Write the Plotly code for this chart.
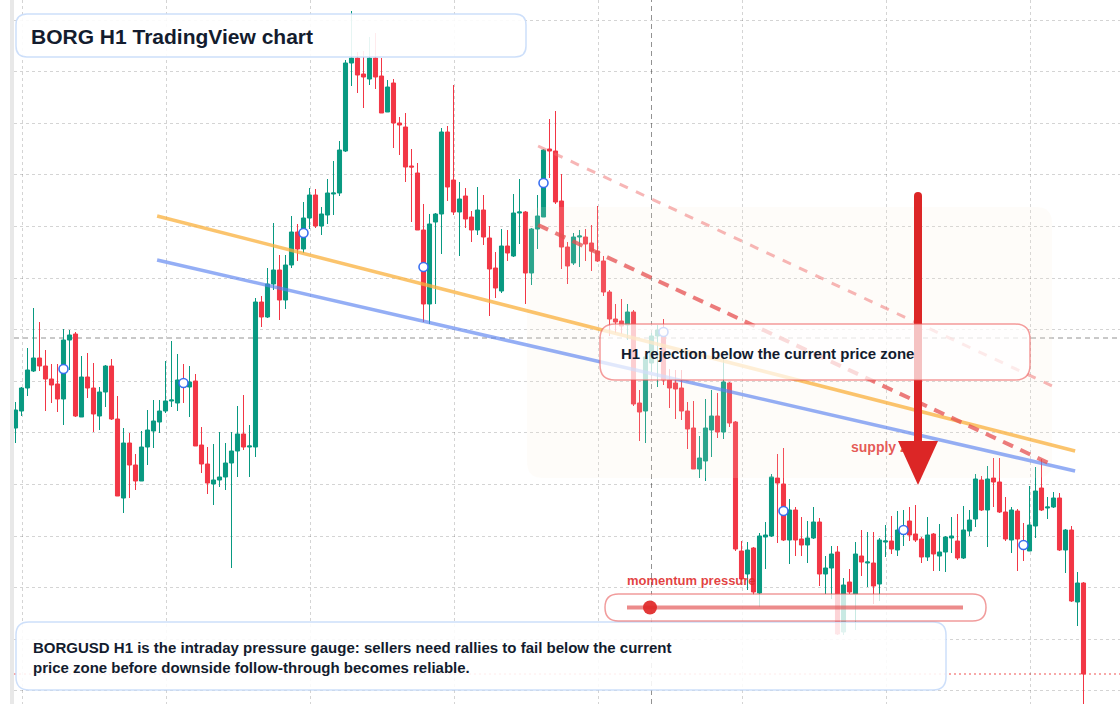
import plotly.graph_objects as go

# ---------------- data (BORG H1 candles) ----------------
open_ = [
    .572, .589, .612, .629, .642, .634, .621, .616, .601, .660,
    .666, .583, .623, .612, .584, .608, .634, .581, .502, .557,
    .535, .519, .553, .569, .578, .589, .599, .597, .619, .613,
    .619, .555, .536, .516, .520, .523, .537, .549, .566, .553,
    .553, .698, .683, .716, .730, .700, .735, .768, .751, .782,
    .805, .774, .785, .806, .807, .849, .937, .942, .926, .921,
    .942, .924, .888, .917, .877, .873, .834, .827, .770, .696,
    .778, .786, .868, .820, .788, .804, .783, .770, .790, .762,
    .732, .709, .754, .744, .787, .788, .727, .771, .783, .851,
    .849, .799, .753, .737, .763, .763, .757, .749, .739, .708,
    .681, .679, .675, .688, .597, .589, .637, .664, .667, .620,
    .617, .612, .589, .572, .531, .539, .570, .584, .568, .617,
    .578, .449, .426, .452, .407, .463, .464, .522, .516, .460,
    .490, .461, .455, .462, .478, .426, .432, .448, .368, .418,
    .406, .444, .437, .437, .416, .458, .459, .450, .466, .479,
    .466, .461, .443, .466, .444, .448, .462, .459, .442, .469,
    .481, .520, .490, .522, .518, .488, .460, .489, .459, .449,
    .474, .512, .492, .493, .502, .450, .470, .398, .417,
]
high = [
    .598, .613, .652, .692, .678, .650, .636, .636, .671, .670,
    .668, .644, .647, .637, .613, .635, .641, .604, .572, .567,
    .546, .569, .590, .600, .600, .639, .659, .646, .636, .634,
    .626, .573, .553, .556, .568, .557, .568, .594, .605, .575,
    .702, .704, .732, .777, .745, .745, .784, .776, .798, .812,
    .811, .793, .821, .839, .859, .940, .989, .948, .949, .963,
    .967, .942, .920, .921, .883, .887, .851, .837, .796, .786,
    .787, .872, .874, .915, .818, .812, .789, .813, .805, .774,
    .748, .771, .770, .806, .821, .789, .772, .805, .851, .881,
    .889, .826, .758, .767, .770, .771, .775, .794, .744, .710,
    .696, .701, .696, .690, .610, .646, .667, .675, .681, .631,
    .630, .630, .598, .599, .564, .601, .610, .607, .642, .618,
    .579, .459, .458, .453, .467, .478, .526, .546, .552, .501,
    .493, .483, .479, .493, .482, .444, .454, .454, .422, .431,
    .458, .470, .468, .468, .462, .475, .484, .489, .490, .493,
    .495, .463, .483, .467, .476, .464, .483, .486, .494, .490,
    .526, .524, .534, .542, .542, .503, .493, .491, .477, .514,
    .533, .541, .503, .508, .507, .471, .474, .428, .418,
]
low = [
    .557, .584, .604, .628, .629, .589, .597, .588, .575, .630,
    .583, .583, .602, .568, .570, .593, .580, .504, .487, .502,
    .510, .519, .535, .552, .567, .587, .593, .589, .597, .583,
    .554, .527, .506, .495, .513, .510, .432, .523, .550, .523,
    .543, .673, .682, .710, .680, .691, .732, .739, .747, .771,
    .772, .765, .776, .785, .804, .848, .914, .907, .892, .915,
    .911, .887, .888, .852, .845, .818, .778, .770, .678, .676,
    .696, .746, .799, .785, .744, .772, .758, .765, .755, .684,
    .702, .707, .739, .743, .756, .696, .715, .751, .783, .822,
    .796, .731, .716, .735, .733, .739, .729, .738, .704, .664,
    .667, .666, .660, .594, .559, .557, .628, .613, .615, .592,
    .581, .580, .551, .531, .522, .519, .543, .562, .561, .573,
    .449, .420, .410, .405, .393, .431, .463, .457, .459, .436,
    .444, .444, .437, .461, .414, .406, .401, .365, .365, .406,
    .370, .424, .413, .396, .399, .443, .446, .444, .454, .459,
    .458, .437, .439, .429, .429, .428, .447, .440, .441, .464,
    .473, .489, .453, .493, .487, .459, .447, .429, .439, .449,
    .462, .489, .481, .492, .449, .427, .398, .374, .296,
]
close = [
    .590, .612, .630, .642, .634, .621, .615, .601, .660, .665,
    .584, .623, .612, .586, .608, .634, .581, .504, .557, .535,
    .519, .553, .570, .579, .589, .599, .600, .620, .614, .618,
    .554, .536, .517, .520, .523, .537, .549, .566, .553, .554,
    .698, .683, .716, .730, .700, .735, .768, .751, .782, .805,
    .774, .786, .807, .807, .850, .937, .942, .925, .923, .942,
    .923, .887, .913, .877, .875, .833, .833, .770, .696, .776,
    .786, .868, .813, .788, .801, .781, .770, .790, .763, .731,
    .712, .754, .747, .787, .788, .727, .771, .784, .850, .849,
    .798, .753, .734, .763, .764, .756, .749, .739, .708, .681,
    .678, .674, .688, .596, .588, .643, .664, .670, .620, .612,
    .611, .589, .571, .531, .542, .572, .584, .568, .618, .577,
    .451, .421, .450, .408, .464, .465, .523, .517, .460, .490,
    .460, .455, .462, .478, .426, .432, .446, .366, .415, .408,
    .446, .438, .438, .414, .460, .459, .451, .470, .470, .465,
    .460, .443, .465, .446, .448, .463, .464, .442, .470, .480,
    .521, .490, .521, .518, .488, .461, .490, .461, .451, .475,
    .509, .490, .493, .502, .450, .470, .399, .417, .326,
]
bar_index = list(range(len(open_)))

# blue session markers
marker_index = [8, 28, 48, 68, 88, 108, 128, 148, 168]
marker_price = [0.631, 0.617, 0.767, 0.733, 0.817, 0.668, 0.489, 0.470, 0.455]

# drawn trend lines (bar index, price)
orange_line = [(23.6, 0.784), (176.6, 0.549)]
blue_line = [(23.6, 0.740), (176.6, 0.529)]
red_dash_line = [(87.1, 0.775), (172.9, 0.535)]
red_light_line = [(87.1, 0.854), (172.8, 0.614)]
crosshair_index = 106
crosshair_price = 0.662

title_text = "BORG H1 TradingView chart"
callout_text = "H1 rejection below the current price zone"
zone_label = "supply zone"
gauge_label = "momentum pressure"
note_text = ("BORGUSD H1 is the intraday pressure gauge: sellers need rallies to fail below the current"
             "<br>price zone before downside follow-through becomes reliable.")

# ---------------- layout helpers ----------------
W, H = 1120, 704
ML = 14
X_RANGE = [-0.25, 184.083]
Y_RANGE = [0.296, 1.0]
FONT = "Liberation Sans, Arial, sans-serif"
GREEN = "#089981"
RED = "#f23645"


def pxp(x):
    return (x - ML) / (W - ML)


def pyp(y):
    return 1 - y / H


def rounded(x0, y0, x1, y1, r):
    pts = [
        ("M", [(x0 + r, y0)]), ("L", [(x1 - r, y0)]), ("Q", [(x1, y0), (x1, y0 + r)]),
        ("L", [(x1, y1 - r)]), ("Q", [(x1, y1), (x1 - r, y1)]), ("L", [(x0 + r, y1)]),
        ("Q", [(x0, y1), (x0, y1 - r)]), ("L", [(x0, y0 + r)]), ("Q", [(x0, y0), (x0 + r, y0)]),
    ]
    s = ""
    for cmd, ps in pts:
        s += cmd + " ".join(f"{pxp(a):.5f},{pyp(b):.5f}" for a, b in ps) + " "
    return s + "Z"


def px_to_index(x):
    return X_RANGE[0] + (x - ML) / (W - ML) * (X_RANGE[1] - X_RANGE[0])


def py_to_price(y):
    return Y_RANGE[1] - y / H * (Y_RANGE[1] - Y_RANGE[0])


fig = go.Figure()

# labels that sit underneath the candles
fig.add_trace(go.Scatter(
    x=[px_to_index(627)], y=[py_to_price(582)], mode="text", text=[gauge_label],
    textposition="middle right", hoverinfo="skip", showlegend=False,
    textfont=dict(family=FONT, size=13, color="rgba(222,40,40,0.88)", weight="bold")))
fig.add_trace(go.Scatter(
    x=[px_to_index(851)], y=[py_to_price(448)], mode="text", text=[zone_label],
    textposition="middle right", hoverinfo="skip", showlegend=False,
    textfont=dict(family=FONT, size=14, color="rgba(222,40,40,0.9)", weight="bold")))

fig.add_trace(go.Candlestick(
    x=bar_index, open=open_, high=high, low=low, close=close,
    increasing=dict(line=dict(color=GREEN, width=1), fillcolor=GREEN),
    decreasing=dict(line=dict(color=RED, width=1), fillcolor=RED),
    whiskerwidth=0, showlegend=False, hoverinfo="skip"))

fig.add_trace(go.Scatter(
    x=marker_index, y=marker_price, mode="markers", hoverinfo="skip", showlegend=False,
    marker=dict(symbol="circle", size=9, color="white",
                line=dict(color="rgba(50,105,240,0.95)", width=1.6))))

shapes = []
# crosshair and last price line
shapes.append(dict(type="line", xref="x", yref="paper", x0=crosshair_index, x1=crosshair_index,
                   y0=0, y1=1, layer="below", line=dict(color="rgba(110,110,110,0.75)", width=1, dash="5px,4px")))
shapes.append(dict(type="line", xref="paper", yref="y", x0=0, x1=1, y0=crosshair_price,
                   y1=crosshair_price, layer="below",
                   line=dict(color="rgba(110,110,110,0.75)", width=1, dash="5px,4px")))
shapes.append(dict(type="line", xref="paper", yref="y", x0=0, x1=1, y0=close[-1], y1=close[-1],
                   layer="below", line=dict(color="rgba(239,50,50,0.85)", width=1, dash="2px,3px")))
# left panel strip
shapes.append(dict(type="rect", xref="paper", yref="paper", x0=pxp(10), x1=pxp(14), y0=0, y1=1,
                   fillcolor="#e8e8e8", line=dict(width=0), layer="above"))
# supply zone
shapes.append(dict(type="path", xref="paper", yref="paper", path=rounded(527, 207, 1052, 478, 16),
                   fillcolor="rgba(250,234,218,0.15)", line=dict(width=0), layer="above"))
# trend lines
for pts, col, w, dash in [
    (orange_line, "rgba(250,176,60,0.75)", 3.5, "solid"),
    (blue_line, "rgba(90,130,240,0.65)", 3.5, "solid"),
    (red_light_line, "rgba(240,110,110,0.5)", 3, "9px,9px"),
    (red_dash_line, "rgba(230,80,80,0.75)", 4, "11px,8px"),
]:
    shapes.append(dict(type="line", xref="x", yref="y", x0=pts[0][0], y0=pts[0][1],
                       x1=pts[1][0], y1=pts[1][1], layer="above",
                       line=dict(color=col, width=w, dash=dash)))
# title box
shapes.append(dict(type="path", xref="paper", yref="paper", path=rounded(16, 14, 526, 57, 11),
                   fillcolor="rgba(255,255,255,0.9)", line=dict(color="rgba(200,220,250,0.9)", width=1.5),
                   layer="above"))
# note box
shapes.append(dict(type="path", xref="paper", yref="paper", path=rounded(16, 622, 946, 690, 13),
                   fillcolor="rgba(255,255,255,0.88)", line=dict(color="rgba(200,220,250,0.9)", width=1.5),
                   layer="above"))
# momentum gauge
shapes.append(dict(type="path", xref="paper", yref="paper", path=rounded(605, 594, 986, 621, 13.5),
                   fillcolor="rgba(255,255,255,0.78)", line=dict(color="rgba(232,90,90,0.6)", width=1.5),
                   layer="above"))
shapes.append(dict(type="line", xref="paper", yref="paper", x0=pxp(627), x1=pxp(963), y0=pyp(607.5),
                   y1=pyp(607.5), line=dict(color="rgba(228,90,90,0.7)", width=4), layer="above"))
shapes.append(dict(type="circle", xref="paper", yref="paper", x0=pxp(643), x1=pxp(657), y0=pyp(600.5),
                   y1=pyp(614.5), fillcolor="rgba(224,40,40,0.92)", line=dict(width=0), layer="above"))
# red arrow
shapes.append(dict(type="line", xref="paper", yref="paper", x0=pxp(918), x1=pxp(918), y0=pyp(196),
                   y1=pyp(446), line=dict(color="rgb(220,38,38)", width=8), layer="above"))
shapes.append(dict(type="circle", xref="paper", yref="paper", x0=pxp(914), x1=pxp(922), y0=pyp(192),
                   y1=pyp(200), fillcolor="rgb(220,38,38)", line=dict(width=0), layer="above"))
shapes.append(dict(type="path", xref="paper", yref="paper",
                   path=f"M{pxp(898):.5f},{pyp(441):.5f} L{pxp(938):.5f},{pyp(441):.5f} L{pxp(918):.5f},{pyp(485):.5f} Z",
                   fillcolor="rgb(220,38,38)", line=dict(width=0), layer="above"))
# callout box
shapes.append(dict(type="path", xref="paper", yref="paper", path=rounded(600, 324, 1030, 380, 15),
                   fillcolor="rgba(255,255,255,0.72)", line=dict(color="rgba(236,90,90,0.6)", width=1.5),
                   layer="above"))

annotations = [
    dict(xref="paper", yref="paper", x=pxp(29), y=pyp(36), xanchor="left", yanchor="middle",
         text=f"<b>{title_text}</b>", showarrow=False,
         font=dict(family=FONT, size=21, color="#131c2e")),
    dict(xref="paper", yref="paper", x=pxp(619), y=pyp(353), xanchor="left", yanchor="middle",
         text=f"<b>{callout_text}</b>", showarrow=False,
         font=dict(family=FONT, size=15, color="#131c2e")),
    dict(xref="paper", yref="paper", x=pxp(31), y=pyp(657), xanchor="left", yanchor="middle",
         text=f"<b>{note_text}</b>", showarrow=False, align="left",
         font=dict(family=FONT, size=15, color="#131c2e")),
]

fig.update_layout(
    width=W, height=H,
    margin=dict(l=ML, r=0, t=0, b=0),
    paper_bgcolor="white", plot_bgcolor="white",
    showlegend=False, hovermode=False,
    boxgap=0.2, boxgroupgap=0.15,
    shapes=shapes, annotations=annotations,
    xaxis=dict(range=X_RANGE, showticklabels=False, zeroline=False, rangeslider=dict(visible=False),
               showgrid=True, gridcolor="rgba(0,0,0,0.17)", griddash="dot", gridwidth=1,
               tick0=(22 - 15.5) / 6, dtick=24, ticks=""),
    yaxis=dict(range=Y_RANGE, showticklabels=False, zeroline=False,
               showgrid=True, gridcolor="rgba(0,0,0,0.17)", griddash="dot", gridwidth=1,
               tick0=0.980, dtick=0.0516, ticks=""),
)

fig.write_html("out.html", config=dict(displayModeBar=False))
